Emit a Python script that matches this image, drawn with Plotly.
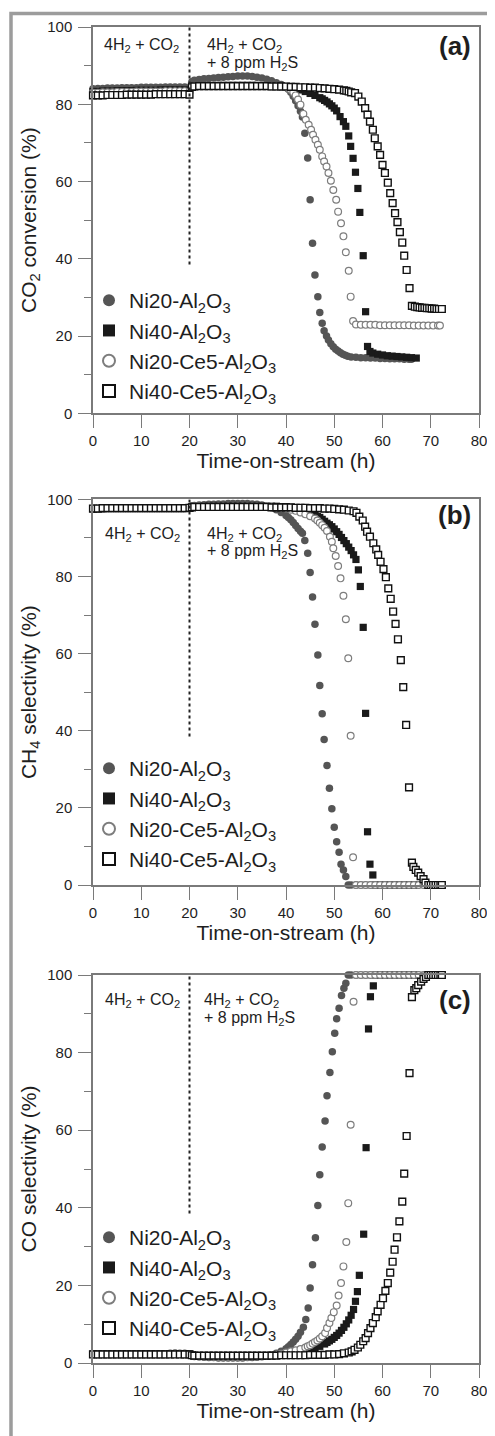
import plotly.graph_objects as go

# ---------------- DATA ----------------
SERIES = ["Ni20-Al<sub>2</sub>O<sub>3</sub>", "Ni40-Al<sub>2</sub>O<sub>3</sub>",
          "Ni20-Ce5-Al<sub>2</sub>O<sub>3</sub>", "Ni40-Ce5-Al<sub>2</sub>O<sub>3</sub>"]
X_TICKS = [0, 10, 20, 30, 40, 50, 60, 70, 80]
Y_TICKS = [0, 20, 40, 60, 80, 100]
Y_TITLES = ["CO<sub>2</sub> conversion (%)", "CH<sub>4</sub> selectivity (%)", "CO selectivity (%)"]
PANEL_LABELS = ["(a)", "(b)", "(c)"]
X_TITLE = "Time-on-stream (h)"

H0_20 = [0, 1, 2, 3, 4, 5, 6, 7, 8, 9, 10, 11, 12, 13, 14, 15, 16, 17, 18, 19, 20]
H20_40 = [20.5, 21, 22, 23, 24, 25, 26, 27, 28, 29, 30, 31, 32, 33, 34, 35, 36, 37, 38, 39, 40]

# ----- (a) CO2 conversion -----
A_NI20_T = H0_20 + H20_40 + [40.5, 41, 41.5, 42, 42.5, 43,
    43.4, 43.9, 44.5, 45.0, 45.5, 46.0, 46.6, 47.0, 47.5, 47.9, 48.4, 48.8, 49.3, 49.8, 50.3, 50.8, 51.3, 51.8, 52.3, 52.8,
    53.5, 54.5, 55.5, 56.5, 57.5, 58.5, 59.5, 60.5, 61.5, 62.5, 63.5, 64.5, 65.5, 66.0]
A_NI20_Y = [84.0, 84.1, 84.1, 84.2, 84.2, 84.2, 84.3, 84.3, 84.3, 84.3, 84.4, 84.4, 84.4, 84.4, 84.4, 84.5, 84.5, 84.5, 84.5, 84.5, 84.3,
    85.8, 86.2, 86.4, 86.6, 86.7, 86.8, 86.9, 87.0, 87.1, 87.2, 87.3, 87.3, 87.3, 87.2, 87.0, 86.8, 86.5, 86.1, 85.6, 85.1, 84.5,
    83.9, 83.1, 82.1, 80.9, 79.6, 78.2,
    76.7, 72.5, 66.1, 55.3, 44.0, 35.8, 30.2, 26.1, 23.3, 21.4, 20.0, 19.0, 18.0, 17.2, 16.6, 16.1, 15.7, 15.3, 15.0, 14.8,
    14.6, 14.5, 14.4, 14.4, 14.3, 14.3, 14.2, 14.2, 14.1, 14.1, 14.1, 14.0, 14.0, 14.0]

A_NI40_T = H0_20 + H20_40 + [41, 42, 43, 44, 45, 46, 47, 47.5, 48, 48.5, 49, 49.5, 50, 50.5,
    51.2, 51.9, 52.4, 53.0, 53.4, 53.9, 54.4, 54.9, 55.3, 56.0, 56.5, 56.9, 57.4,
    58, 59, 60, 61, 62, 63, 64, 65, 66, 67]
A_NI40_Y = [83.3, 83.3, 83.4, 83.4, 83.4, 83.5, 83.5, 83.5, 83.5, 83.6, 83.6, 83.6, 83.6, 83.6, 83.7, 83.7, 83.7, 83.7, 83.7, 83.7, 83.6,
    84.6, 84.7, 84.8, 84.8, 84.8, 84.8, 84.9, 84.9, 84.9, 84.9, 84.9, 84.9, 84.9, 84.9, 84.9, 84.8, 84.8, 84.8, 84.8, 84.7, 84.6,
    84.4, 84.1, 83.7, 83.3, 82.8, 82.3, 81.7, 81.4, 81.0, 80.6, 80.1, 79.6, 79.0, 78.3,
    76.8, 75.5, 74.3, 71.8, 69.1, 66.0, 62.4, 58.2, 52.0, 40.8, 26.3, 17.3, 16.0,
    15.6, 15.3, 15.1, 14.9, 14.8, 14.7, 14.6, 14.5, 14.4, 14.3]

A_NI2CE_T = H0_20 + H20_40 + [40.5, 41, 41.5, 42, 42.5, 43,
    43.6, 44.1, 44.7, 45.2, 45.6, 46.1, 46.6, 47.0, 47.5, 47.9, 48.4, 48.8, 49.3, 49.8, 50.4, 50.8, 51.4, 51.9, 52.4, 53.0, 53.4, 53.9,
    54.5, 55.5, 56.5, 57.5, 58.5, 59.5, 60.5, 61.5, 62.5, 63.5, 64.5, 65.5, 66.5, 67.5, 68.5, 69.5, 70.5, 71.5, 71.9]
A_NI2CE_Y = [83.0, 83.0, 83.1, 83.1, 83.1, 83.2, 83.2, 83.2, 83.2, 83.3, 83.3, 83.3, 83.3, 83.3, 83.3, 83.4, 83.4, 83.4, 83.4, 83.4, 83.3,
    84.5, 84.6, 84.7, 84.7, 84.7, 84.8, 84.8, 84.8, 84.8, 84.8, 84.8, 84.8, 84.8, 84.8, 84.7, 84.7, 84.7, 84.6, 84.6, 84.5, 84.4,
    84.1, 83.7, 83.1, 82.3, 81.2, 79.9,
    77.5, 76.0, 74.7, 73.4, 72.1, 70.8, 69.5, 68.2, 66.5, 65.2, 63.9, 62.2, 60.2, 57.8, 55.3, 52.2, 49.2, 45.8, 41.7, 36.9, 30.2, 23.9,
    23.0, 22.9, 22.9, 22.9, 22.9, 22.8, 22.8, 22.8, 22.8, 22.8, 22.8, 22.8, 22.7, 22.7, 22.7, 22.7, 22.7, 22.7, 22.7]

A_NI4CE_T = [-0.5] + H0_20 + [20.5, 21, 22, 23, 24, 25, 26, 27, 28, 29, 30, 31, 32, 33, 34, 35, 36, 37, 38, 39, 40,
    41, 42, 43, 44, 45, 46, 47, 48, 49, 50, 51, 52, 52.5, 53.0, 53.5,
    54.3, 55.0, 55.7, 56.4, 56.9, 57.4, 58.0, 58.4, 59.0, 59.5, 60.0, 60.5, 61.1, 61.6, 62.1, 62.6, 63.1, 63.6, 64.1, 64.5, 65.0, 65.6, 66.1,
    66.7, 67.2, 67.7, 68.2, 68.7, 69.2, 69.7, 70.2, 70.7, 71.2, 71.7, 72.3]
A_NI4CE_Y = [0.0, 82.3, 82.3, 82.3, 82.4, 82.4, 82.4, 82.4, 82.5, 82.5, 82.5, 82.5, 82.5, 82.5, 82.6, 82.6, 82.6, 82.6, 82.6, 82.6, 82.6, 82.5,
    84.5, 84.6, 84.7, 84.7, 84.7, 84.7, 84.7, 84.7, 84.7, 84.7, 84.7, 84.7, 84.7, 84.7, 84.7, 84.7, 84.7, 84.6, 84.6, 84.6, 84.6,
    84.5, 84.5, 84.4, 84.4, 84.3, 84.3, 84.2, 84.1, 84.0, 83.9, 83.8, 83.6, 83.5, 83.3, 83.1,
    82.9, 82.0, 80.7, 79.0, 77.3, 75.5, 73.4, 71.2, 69.1, 66.9, 64.3, 62.2, 59.7, 57.0, 54.4, 51.8, 49.5, 46.9, 44.2, 40.8, 37.1, 32.4, 27.8,
    27.6, 27.5, 27.4, 27.3, 27.3, 27.2, 27.2, 27.1, 27.1, 27.0, 27.0, 27.0]

# ----- (b) CH4 selectivity -----
B_NI20_T = H0_20 + H20_40 + [40.5, 41, 41.5, 42, 42.5, 43,
    43.4, 43.9, 44.5, 45.0, 45.5, 46.0, 46.6, 47.0, 47.5, 47.9, 48.5, 49.0, 49.5, 50.0, 50.5, 51.0, 51.4, 51.9, 52.4,
    52.9, 53.5, 54.5, 55.5, 56.5, 57.5, 58.5, 59.5, 60.5, 61.5, 62.5, 63.5, 64.5, 65.5, 66.0]
B_NI20_Y = [97.7, 97.7, 97.8, 97.8, 97.8, 97.8, 97.8, 97.8, 97.8, 97.8, 97.8, 97.8, 97.8, 97.8, 97.8, 97.8, 97.8, 97.8, 97.8, 97.8, 97.9,
    98.3, 98.4, 98.5, 98.6, 98.7, 98.7, 98.8, 98.8, 98.9, 98.9, 98.9, 98.9, 98.9, 98.8, 98.7, 98.5, 98.2, 97.8, 97.3, 96.6, 95.8,
    95.3, 94.7, 94.0, 93.2, 92.4, 91.7,
    91.2, 89.3, 86.0, 81.0, 74.7, 67.6, 59.6, 51.7, 44.4, 37.7, 31.0, 25.1, 19.8, 15.0, 11.2, 8.5, 5.4, 3.9, 2.2,
    0, 0, 0, 0, 0, 0, 0, 0, 0, 0, 0, 0, 0, 0, 0]

B_NI40_T = H0_20 + H20_40 + [41, 42, 43, 44, 45, 46,
    46.5, 47, 47.5, 48, 48.5, 49, 49.5, 50, 50.5, 51, 51.5, 52, 52.5, 53, 53.5, 54, 54.5,
    55.0, 55.4, 56.0, 56.5, 56.9, 57.4, 58.0,
    58.5, 59.5, 60.5, 61.5, 62.5, 63.5, 64.5, 65.5, 66.5, 67.0]
B_NI40_Y = [97.6, 97.6, 97.6, 97.7, 97.7, 97.7, 97.7, 97.7, 97.7, 97.7, 97.7, 97.7, 97.7, 97.7, 97.7, 97.7, 97.7, 97.7, 97.7, 97.7, 97.8,
    98.0, 98.1, 98.1, 98.2, 98.2, 98.2, 98.2, 98.2, 98.2, 98.2, 98.2, 98.2, 98.2, 98.2, 98.2, 98.2, 98.2, 98.2, 98.2, 98.1, 98.1,
    97.9, 97.6, 97.2, 96.7, 96.3, 95.9,
    95.6, 95.3, 94.8, 94.3, 93.8, 93.4, 92.9, 92.3, 91.6, 90.9, 90.1, 89.3, 88.5, 87.6, 86.7, 85.6, 84.4,
    81.7, 77.4, 66.8, 44.5, 13.8, 5.4, 2.6,
    0, 0, 0, 0, 0, 0, 0, 0, 0, 0]

B_NI2CE_T = H0_20 + [20.5, 21, 22, 23, 24, 25, 26, 27, 28, 29, 30, 31, 32, 33, 34, 35, 36, 37, 38, 39, 40,
    41, 42, 43, 44, 45, 46, 46.5, 47, 47.5, 48, 48.5,
    49.1, 49.5, 49.8, 50.3, 50.8, 51.3, 51.9, 52.4, 52.9, 53.4, 53.9,
    54.5, 55.5, 56.5, 57.5, 58.5, 59.5, 60.5, 61.5, 62.5, 63.5, 64.5, 65.5, 66.5, 67.5, 68.5, 69.5, 70.5, 71.5, 72.0]
B_NI2CE_Y = [97.5, 97.5, 97.5, 97.6, 97.6, 97.6, 97.6, 97.6, 97.6, 97.6, 97.6, 97.6, 97.6, 97.6, 97.6, 97.6, 97.6, 97.6, 97.6, 97.6, 97.7,
    97.9, 98.0, 98.0, 98.1, 98.1, 98.1, 98.1, 98.1, 98.1, 98.1, 98.1, 98.1, 98.1, 98.1, 98.1, 98.0, 98.0, 98.0, 97.9, 97.8, 97.6,
    97.3, 97.0, 96.6, 96.1, 95.6, 95.0, 94.5, 93.9, 93.3, 92.6, 91.8,
    90.3, 89.0, 87.3, 85.3, 82.7, 79.5, 75.0, 68.9, 58.8, 38.7, 7.2,
    0, 0, 0, 0, 0, 0, 0, 0, 0, 0, 0, 0, 0, 0, 0, 0, 0, 0, 0]

B_NI4CE_T = H0_20 + [20.5, 21, 22, 23, 24, 25, 26, 27, 28, 29, 30, 31, 32, 33, 34, 35, 36, 37, 38, 39, 40,
    41, 42, 43, 44, 45, 46, 47, 48, 49, 50, 51, 52, 53, 54,
    54.6, 55.2, 55.9, 56.4, 56.8, 57.4, 58.1, 58.7, 59.1, 59.6, 60.2, 60.7, 61.2, 61.7, 62.2, 62.7, 63.2, 63.8, 64.3, 64.9, 65.5, 66.1,
    66.4, 66.9, 67.4, 67.9, 68.5, 68.9, 69.5, 70.0, 70.5, 71.0, 71.5, 72.0, 72.3]
B_NI4CE_Y = [97.6, 97.6, 97.7, 97.7, 97.7, 97.7, 97.7, 97.7, 97.7, 97.7, 97.7, 97.7, 97.7, 97.7, 97.7, 97.7, 97.7, 97.7, 97.7, 97.7, 97.8,
    97.9, 98.0, 98.0, 98.0, 98.0, 98.0, 98.0, 98.0, 98.0, 98.0, 98.0, 98.0, 98.0, 98.0, 98.0, 98.0, 98.0, 97.9, 97.9, 97.9, 97.9,
    97.9, 97.8, 97.8, 97.8, 97.7, 97.7, 97.7, 97.6, 97.6, 97.5, 97.4, 97.3, 97.1, 96.9,
    96.5, 95.5, 94.5, 92.9, 91.6, 90.3, 88.6, 87.0, 85.6, 83.8, 81.9, 79.8, 76.9, 74.2, 70.9, 67.7, 63.7, 58.3, 51.3, 41.5, 25.3, 5.8,
    4.7, 3.9, 3.2, 2.3, 1.5, 0.6, 0, 0, 0, 0, 0, 0, 0]

# ----- (c) CO selectivity -----
C_NI20_T = H0_20 + H20_40 + [40.5, 41, 41.5, 42, 42.5, 43,
    43.6, 44.1, 44.6, 45.0, 45.5, 46.1, 46.6, 47.0, 47.5, 48.1, 48.5, 49.1, 49.6, 50.1, 50.5, 51.0, 51.5, 52.0, 52.4,
    52.9, 53.5, 54.5, 55.5, 56.5, 57.5, 58.5, 59.5, 60.5, 61.5, 62.5, 63.5, 64.5, 65.5, 66.0]
C_NI20_Y = [2.4, 2.4, 2.4, 2.4, 2.4, 2.4, 2.4, 2.4, 2.4, 2.4, 2.4, 2.4, 2.4, 2.4, 2.4, 2.4, 2.5, 2.6, 2.5, 2.5, 2.4,
    1.9, 1.7, 1.6, 1.5, 1.4, 1.4, 1.3, 1.3, 1.3, 1.3, 1.3, 1.3, 1.4, 1.4, 1.5, 1.6, 1.8, 2.1, 2.5, 3.0, 3.7,
    4.2, 4.8, 5.4, 6.1, 6.9, 7.9,
    9.2, 11.2, 14.2, 19.3, 25.3, 32.3, 40.6, 48.5, 55.7, 62.4, 68.9, 74.9, 80.2, 85.0, 88.7, 91.4, 94.7, 96.6, 97.9,
    100, 100, 100, 100, 100, 100, 100, 100, 100, 100, 100, 100, 100, 100, 100]

C_NI40_T = H0_20 + [20.5, 21, 22, 23, 24, 25, 26, 27, 28, 29, 30, 31, 32, 33, 34, 35, 36, 37, 38, 39, 40, 41, 42, 43, 44,
    45, 46, 47, 48, 48.5, 49, 49.5, 50, 50.5, 51, 51.5, 52, 52.5, 53, 53.5, 54.0,
    54.4, 54.8, 55.2, 56.1, 56.6, 57.1, 57.5, 58.1,
    58.6, 59.5, 60.5, 61.5, 62.5, 63.5, 64.5, 65.5, 66.5, 67.0]
C_NI40_Y = [2.3, 2.3, 2.3, 2.3, 2.3, 2.3, 2.3, 2.3, 2.3, 2.3, 2.3, 2.3, 2.3, 2.3, 2.3, 2.3, 2.4, 2.4, 2.4, 2.3, 2.3,
    2.0, 1.9, 1.8, 1.8, 1.8, 1.7, 1.7, 1.7, 1.7, 1.7, 1.7, 1.7, 1.7, 1.7, 1.8, 1.8, 1.8, 1.9, 2.0, 2.1, 2.2, 2.4, 2.6, 2.8, 3.1,
    3.4, 3.8, 4.3, 4.9, 5.3, 5.7, 6.1, 6.6, 7.1, 7.7, 8.4, 9.2, 10.1, 11.1, 12.3, 13.8,
    15.9, 18.4, 22.6, 33.2, 55.5, 86.1, 94.4, 97.2,
    100, 100, 100, 100, 100, 100, 100, 100, 100, 100]

C_NI2CE_T = H0_20 + [20.5, 21, 22, 23, 24, 25, 26, 27, 28, 29, 30, 31, 32, 33, 34, 35, 36, 37, 38, 39, 40, 41, 42, 43, 44,
    44.5, 45, 45.5, 46, 46.5, 47, 47.5,
    48.1, 48.5, 49.0, 49.4, 49.9, 50.5, 50.9, 51.4, 51.9, 52.5, 52.9, 53.4, 54.0,
    54.5, 55.5, 56.5, 57.5, 58.5, 59.5, 60.5, 61.5, 62.5, 63.5, 64.5, 65.5, 66.5, 67.5, 68.5, 69.5, 70.5, 71.5, 72.0]
C_NI2CE_Y = [2.2, 2.2, 2.2, 2.2, 2.2, 2.2, 2.2, 2.2, 2.2, 2.2, 2.2, 2.2, 2.2, 2.2, 2.2, 2.2, 2.3, 2.3, 2.3, 2.2, 2.2,
    1.9, 1.8, 1.7, 1.7, 1.7, 1.6, 1.6, 1.6, 1.6, 1.6, 1.6, 1.6, 1.6, 1.7, 1.7, 1.8, 1.9, 2.0, 2.2, 2.4, 2.7, 3.0, 3.3, 3.6, 4.0,
    4.3, 4.6, 5.0, 5.4, 5.8, 6.3, 6.9,
    7.7, 9.0, 10.3, 11.6, 13.1, 14.8, 17.4, 20.6, 24.9, 31.2, 41.2, 61.4, 93.1,
    100, 100, 100, 100, 100, 100, 100, 100, 100, 100, 100, 100, 100, 100, 100, 100, 100, 100, 100]

C_NI4CE_T = H0_20 + [20.5, 21, 22, 23, 24, 25, 26, 27, 28, 29, 30, 31, 32, 33, 34, 35, 36, 37, 38, 39, 40,
    41, 42, 43, 44, 45, 46, 47, 48, 49, 50, 51, 52, 53, 53.6,
    54.2, 54.9, 55.4, 56.0, 56.5, 57.0, 57.5, 58.0, 58.6, 59.0, 59.6, 60.1, 60.6, 61.1, 61.6, 62.1, 62.5, 63.0, 63.5, 64.1,
    64.5, 65.0, 65.6, 66.1, 66.6, 67.0, 67.4, 68.0, 68.5, 69.0,
    69.5, 70.0, 70.5, 71.0, 71.5, 72.0, 72.3]
C_NI4CE_Y = [2.2, 2.2, 2.2, 2.2, 2.2, 2.2, 2.2, 2.2, 2.2, 2.2, 2.2, 2.2, 2.2, 2.2, 2.2, 2.2, 2.2, 2.2, 2.2, 2.2, 2.2,
    2.0, 1.9, 1.9, 1.9, 1.9, 1.9, 1.9, 1.9, 1.9, 1.9, 1.9, 1.9, 1.9, 1.9, 1.9, 1.9, 1.9, 1.9, 1.9, 2.0, 2.0,
    2.0, 2.0, 2.0, 2.0, 2.1, 2.1, 2.1, 2.1, 2.2, 2.2, 2.3, 2.5, 2.7, 3.0,
    3.4, 4.0, 4.7, 5.6, 6.4, 7.7, 9.0, 10.3, 11.8, 13.3, 15.0, 16.7, 18.6, 20.6, 23.3, 26.1, 29.2, 32.4, 36.5, 41.6,
    48.8, 58.5, 74.7, 94.3, 96.1, 96.6, 97.4, 98.3, 99.0, 99.5,
    100, 100, 100, 100, 100, 100, 100]

PANELS = [
    [(A_NI20_T, A_NI20_Y), (A_NI40_T, A_NI40_Y), (A_NI2CE_T, A_NI2CE_Y), (A_NI4CE_T, A_NI4CE_Y)],
    [(B_NI20_T, B_NI20_Y), (B_NI40_T, B_NI40_Y), (B_NI2CE_T, B_NI2CE_Y), (B_NI4CE_T, B_NI4CE_Y)],
    [(C_NI20_T, C_NI20_Y), (C_NI40_T, C_NI40_Y), (C_NI2CE_T, C_NI2CE_Y), (C_NI4CE_T, C_NI4CE_Y)],
]
for p in PANELS:
    for t, v in p:
        assert len(t) == len(v), (len(t), len(v))

# feed-composition labels (text, x, y) per panel
FEED_LINES = [
    [("4H<sub>2</sub> + CO<sub>2</sub>", 1.8, 95.2), ("4H<sub>2</sub> + CO<sub>2</sub>", 23.2, 95.2), ("+ 8 ppm H<sub>2</sub>S", 23.2, 90.5)],
    [("4H<sub>2</sub> + CO<sub>2</sub>", 2.0, 91.0), ("4H<sub>2</sub> + CO<sub>2</sub>", 23.2, 91.0), ("+ 8 ppm H<sub>2</sub>S", 23.2, 86.5)],
    [("4H<sub>2</sub> + CO<sub>2</sub>", 2.0, 93.4), ("4H<sub>2</sub> + CO<sub>2</sub>", 22.6, 93.4), ("+ 8 ppm H<sub>2</sub>S", 22.6, 88.8)],
]
LABEL_Y = [95.0, 95.9, 93.6]
SWITCH_T = 20
SWITCH_LINE = [38.5, 100]

# ---------------- STYLE ----------------
FONT = "Liberation Sans, Arial, sans-serif"
TXT = "#1e1e1e"
AX = "#7a7a7a"
STYLES = [
    dict(symbol="circle", size=7.5, color="#555555", line=dict(width=0)),
    dict(symbol="square", size=7.2, color="#1a1a1a", line=dict(width=0)),
    dict(symbol="circle", size=6.8, color="#ffffff", line=dict(width=1.2, color="#7d7d7d")),
    dict(symbol="square", size=6.8, color="#ffffff", line=dict(width=1.4, color="#111111")),
]

# the page adds an 8px body margin, so the figure is laid out 8px smaller
OFF = 8
W, H = 495 - OFF, 1436 - OFF
ML, MR, MT, MB = 93 - OFF, 16, 27 - OFF, 73
PH = H - MT - MB
PW = W - ML - MR
def py2paper(page_py):
    return (H - MB - (page_py - OFF)) / PH
def px2paper(page_px):
    return (page_px - OFF - ML) / PW
def ydom(top_px, bot_px):
    return [min(1.0, max(0.0, py2paper(bot_px))), min(1.0, max(0.0, py2paper(top_px)))]
DOMAINS = [ydom(27, 413.3), ydom(499.3, 885), ydom(975, 1363)]
LEGEND_TOP = [280, 748, 1217]

fig = go.Figure()
for i, panel in enumerate(PANELS):
    sfx = "" if i == 0 else str(i + 1)
    leg = "legend" if i == 0 else "legend" + str(i + 1)
    for j, (t, v) in enumerate(panel):
        fig.add_trace(go.Scatter(
            x=t, y=v, mode="markers", name=SERIES[j], marker=STYLES[j],
            xaxis="x" + sfx, yaxis="y" + sfx, legend=leg, cliponaxis=False,
            showlegend=True))

layout = dict(
    width=W, height=H, margin=dict(l=ML, r=MR, t=MT, b=MB, autoexpand=False),
    paper_bgcolor="white", plot_bgcolor="white",
    font=dict(family=FONT, color=TXT, size=15),
    shapes=[], annotations=[],
)
for i in range(3):
    sfx = "" if i == 0 else str(i + 1)
    layout["xaxis" + sfx] = dict(
        domain=[0, 1], anchor="y" + sfx, range=[0, 80], tickvals=X_TICKS,
        ticks="outside", ticklen=13, tickwidth=1.3, tickcolor=AX,
        showline=True, linecolor=AX, linewidth=1.5, mirror=True,
        showgrid=False, zeroline=False, tickfont=dict(size=15, color=TXT),
        title=dict(text=X_TITLE, font=dict(size=21, color=TXT), standoff=5))
    layout["yaxis" + sfx] = dict(
        domain=DOMAINS[i], anchor="x" + sfx, range=[0, 100], tickvals=Y_TICKS,
        ticks="outside", ticklen=13, tickwidth=1.3, tickcolor=AX,
        minor=dict(dtick=10, ticks="outside", ticklen=7, tickwidth=1.3, tickcolor=AX),
        showline=True, linecolor=AX, linewidth=1.5, mirror=True,
        showgrid=False, zeroline=False, tickfont=dict(size=15, color=TXT),
        ticklabelstandoff=3,
        title=dict(text=Y_TITLES[i], font=dict(size=21, color=TXT), standoff=5))
    leg = "legend" if i == 0 else "legend" + str(i + 1)
    layout[leg] = dict(
        x=px2paper(89), y=py2paper(LEGEND_TOP[i]),
        xanchor="left", yanchor="top", bgcolor="rgba(0,0,0,0)",
        font=dict(size=21, color=TXT, family=FONT), itemsizing="constant",
        tracegroupgap=0)
    layout["shapes"].append(dict(
        type="line", xref="x" + sfx, yref="y" + sfx, x0=SWITCH_T, x1=SWITCH_T,
        y0=SWITCH_LINE[0], y1=SWITCH_LINE[1], line=dict(color="#222", width=2, dash="dot")))
    for txt, x, y in FEED_LINES[i]:
        layout["annotations"].append(dict(
            text=txt, x=x, y=y, xref="x" + sfx, yref="y" + sfx, xanchor="left",
            yanchor="middle", showarrow=False, font=dict(size=16, color=TXT)))
    layout["annotations"].append(dict(
        text="<b>" + PANEL_LABELS[i] + "</b>", x=78.8, y=LABEL_Y[i], xref="x" + sfx,
        yref="y" + sfx, xanchor="right", yanchor="middle", showarrow=False,
        font=dict(size=26, color=TXT)))

# outer grey frame of the figure
layout["shapes"].append(dict(
    type="rect", xref="paper", yref="paper",
    x0=px2paper(11), x1=px2paper(520),
    y0=py2paper(1460), y1=py2paper(13.5),
    line=dict(color="#9c9c9c", width=3.5), layer="below"))

fig.update_layout(**layout)
fig.write_html("out.html")
